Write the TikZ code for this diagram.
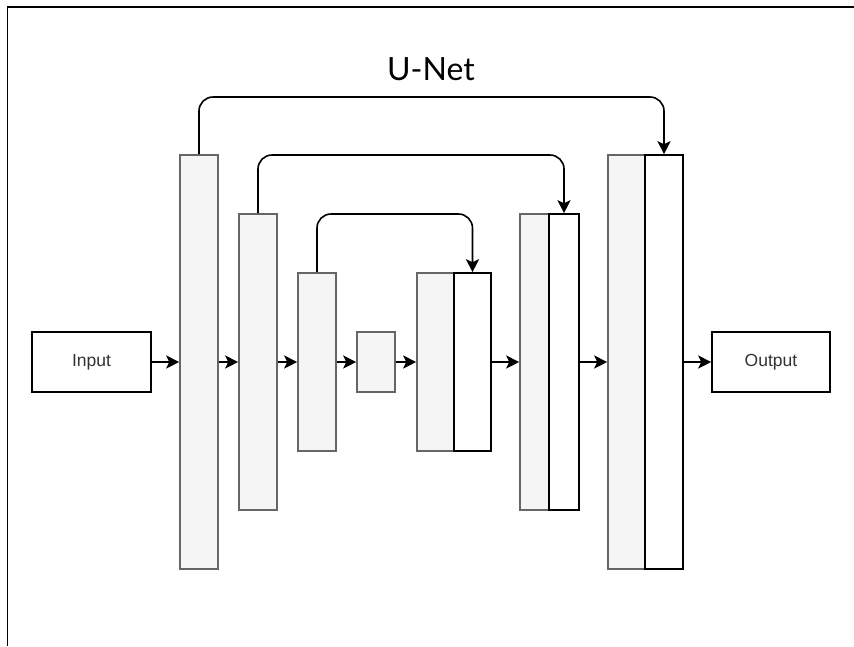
\documentclass[tikz,border=0pt]{standalone}
\usepackage{fontspec}
\setmainfont{Liberation Sans}
\newfontfamily\latofont{Lato}
\usetikzlibrary{arrows.meta}
\definecolor{barfill}{HTML}{F5F5F5}
\definecolor{bardraw}{HTML}{666666}
\definecolor{iotext}{HTML}{333333}
\begin{document}
\begin{tikzpicture}[x=1pt,y=-1pt,
  lw/.style={line width=1.6pt},
  greybar/.style={draw=bardraw,fill=barfill,lw,inner sep=0pt,minimum width=#1},
  whitebar/.style={draw=black,fill=white,lw,inner sep=0pt,minimum width=#1},
  iobox/.style={draw=black,fill=white,lw,inner sep=0pt,minimum height=60pt,font=\fontsize{17.5}{20}\selectfont,text=iotext},
  arr/.style={lw,-{Stealth[length=13pt,width=13pt,inset=3pt]}},
  skip/.style={arr,rounded corners=14pt}]
\useasboundingbox (0,0) rectangle (854,646);
\draw[line width=1.7pt] (7.5,646) -- (7.5,6.7) -- (854,6.7);
\node[font=\latofont\fontsize{32}{36}\selectfont] (title) at (431,69) {U-Net};
\node[iobox,minimum width=119pt] (in) at (91.5,362) {Input};
\node[iobox,minimum width=118pt] (out) at (771,362) {Output};
\node[greybar=38pt,minimum height=414pt] (b1) at (199,362) {};
\node[greybar=38pt,minimum height=296pt] (b2) at (258,362) {};
\node[greybar=38pt,minimum height=178pt] (b3) at (317,362) {};
\node[greybar=38pt,minimum height=60pt] (b4) at (376,362) {};
\node[greybar=37pt,minimum height=178pt] (b5g) at (435.5,362) {};
\node[whitebar=37pt,minimum height=178pt] (b5w) at (472.5,362) {};
\node[greybar=29pt,minimum height=296pt] (b6g) at (534.5,362) {};
\node[whitebar=30pt,minimum height=296pt] (b6w) at (564,362) {};
\node[greybar=37pt,minimum height=414pt] (b7g) at (626.5,362) {};
\node[whitebar=38pt,minimum height=414pt] (b7w) at (664,362) {};
\draw[arr] (in.east) -- (b1.west);
\draw[arr] (b1.east) -- (b2.west);
\draw[arr] (b2.east) -- (b3.west);
\draw[arr] (b3.east) -- (b4.west);
\draw[arr] (b4.east) -- (b5g.west);
\draw[arr] (b5w.east) -- (b6g.west);
\draw[arr] (b6w.east) -- (b7g.west);
\draw[arr] (b7w.east) -- (out.west);
\draw[skip] (b1.north) -- (b1.north |- 0,97) -| (b7w.north);
\draw[skip] (b2.north) -- (b2.north |- 0,155) -| (b6w.north);
\draw[skip] (b3.north) -- (b3.north |- 0,214) -| (b5w.north);
\end{tikzpicture}
\end{document}
